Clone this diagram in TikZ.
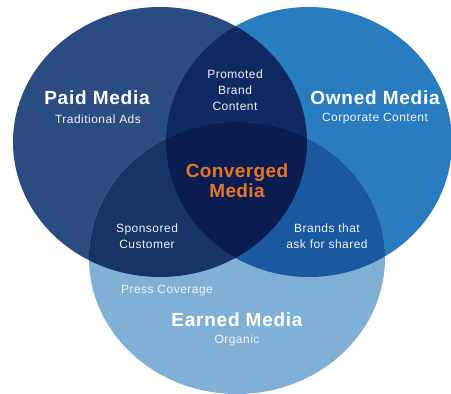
\documentclass[tikz,border=0pt]{standalone}
\usepackage{fontspec}
\setmainfont{Liberation Sans}
\definecolor{paid}{HTML}{2B4C80}
\definecolor{owned}{HTML}{2A7CC0}
\definecolor{earned}{HTML}{80B0D5}
\definecolor{po}{HTML}{0F2A62}
\definecolor{pe}{HTML}{163466}
\definecolor{oe}{HTML}{1A58A0}
\definecolor{core}{HTML}{0A1C50}
\definecolor{conv}{HTML}{E87722}
\begin{document}
\begin{tikzpicture}[x=1pt,y=-1pt,
  title/.style={text=white,font=\fontsize{19}{22}\selectfont\bfseries\addfontfeature{LetterSpace=4},inner sep=0pt},
  sub/.style={text=white!90!gray,font=\fontsize{12}{16}\selectfont\addfontfeature{LetterSpace=4},inner sep=0pt,align=center},
  convtxt/.style={text=conv,font=\fontsize{19}{20}\selectfont\bfseries\addfontfeature{LetterSpace=2},inner sep=0pt,align=center}]
\useasboundingbox (0,0) rectangle (451,394);
\def\paidpath{(160,142) ellipse [x radius=147, y radius=135]}
\def\ownedpath{(309,142) ellipse [x radius=143, y radius=135]}
\def\earnedpath{(237,258) ellipse [x radius=148, y radius=136]}
\fill[white] (0,0) rectangle (451,394);
\fill[paid] \paidpath;
\fill[owned] \ownedpath;
\fill[earned] \earnedpath;
\begin{scope}
  \clip \paidpath;
  \fill[po] \ownedpath;
  \fill[pe] \earnedpath;
\end{scope}
\begin{scope}
  \clip \ownedpath;
  \fill[oe] \earnedpath;
\end{scope}
\begin{scope}
  \clip \paidpath;
  \clip \ownedpath;
  \fill[core] \earnedpath;
\end{scope}
\node[title] (paidt) at (97,98) {Paid Media};
\node[sub] (paids) at (98,119) {Traditional Ads};
\node[title] (ownedt) at (375,98) {Owned Media};
\node[sub] (owneds) at (375,119) {Corporate Content};
\node[sub] (promo) at (235,90) {Promoted\\Brand\\Content};
\node[convtxt] (convt) at (237,181) {Converged\\Media};
\node[sub] (spons) at (147,236) {Sponsored\\Customer};
\node[sub] (brands) at (327,236) {Brands that\\ask for shared};
\node[sub] (press) at (167,291) {Press Coverage};
\node[title] (earnedt) at (237,320) {Earned Media};
\node[sub] (earneds) at (237,340) {Organic};
\end{tikzpicture}
\end{document}
